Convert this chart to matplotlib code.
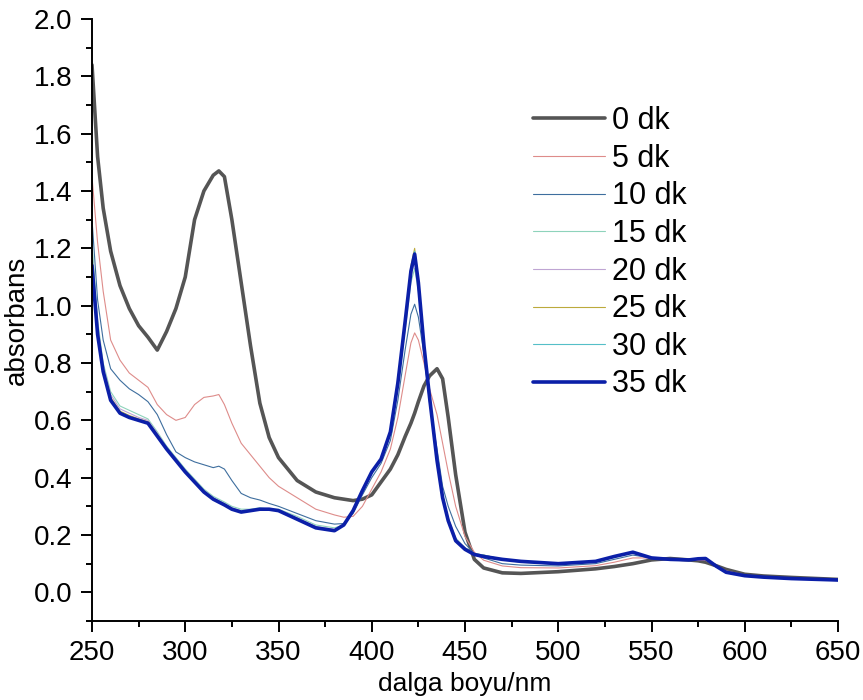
import matplotlib
matplotlib.use("Agg")
import matplotlib.pyplot as plt
from matplotlib.ticker import MultipleLocator, FormatStrFormatter

plt.rcParams['font.family'] = ['Liberation Sans', 'DejaVu Sans']

wavelength = [250, 253, 256, 260, 265, 270, 275, 280, 285, 290,
              295, 300, 305, 310, 315, 318, 321, 325, 330, 335,
              340, 345, 350, 360, 370, 380, 385, 390, 395, 400,
              405, 410, 414, 418, 421, 423, 425, 428, 431, 435,
              438, 441, 445, 450, 455, 460, 470, 480, 500, 520,
              530, 540, 550, 560, 570, 575, 579, 585, 590, 600,
              610, 625, 650]

abs_0 = [1.84, 1.52, 1.34, 1.19, 1.07, 0.99, 0.93, 0.89, 0.845, 0.91,
         0.99, 1.10, 1.30, 1.40, 1.455, 1.47, 1.45, 1.30, 1.08, 0.86,
         0.66, 0.54, 0.47, 0.39, 0.35, 0.33, 0.325, 0.32, 0.325, 0.34,
         0.385, 0.43, 0.48, 0.545, 0.59, 0.625, 0.665, 0.72, 0.755, 0.78,
         0.745, 0.61, 0.41, 0.21, 0.115, 0.085, 0.068, 0.066, 0.072, 0.082,
         0.09, 0.10, 0.113, 0.118, 0.113, 0.11, 0.105, 0.092, 0.08, 0.063,
         0.057, 0.052, 0.045]

abs_5 = [1.45, 1.22, 1.05, 0.88, 0.81, 0.765, 0.74, 0.715, 0.655, 0.62,
         0.60, 0.61, 0.655, 0.68, 0.685, 0.69, 0.655, 0.59, 0.52, 0.48,
         0.44, 0.40, 0.37, 0.33, 0.29, 0.27, 0.262, 0.265, 0.30, 0.36,
         0.42, 0.50, 0.61, 0.76, 0.87, 0.905, 0.88, 0.80, 0.71, 0.62,
         0.52, 0.42, 0.30, 0.195, 0.14, 0.112, 0.092, 0.086, 0.085, 0.093,
         0.105, 0.12, 0.12, 0.115, 0.112, 0.112, 0.112, 0.09, 0.075, 0.06,
         0.055, 0.05, 0.044]

abs_10 = [1.30, 1.02, 0.88, 0.78, 0.74, 0.71, 0.69, 0.665, 0.62, 0.55,
          0.49, 0.47, 0.455, 0.445, 0.435, 0.44, 0.43, 0.39, 0.345, 0.33,
          0.322, 0.31, 0.30, 0.275, 0.25, 0.238, 0.24, 0.275, 0.34, 0.40,
          0.45, 0.53, 0.67, 0.85, 0.97, 1.005, 0.96, 0.83, 0.66, 0.50,
          0.37, 0.30, 0.23, 0.17, 0.135, 0.12, 0.10, 0.095, 0.092, 0.10,
          0.115, 0.13, 0.12, 0.115, 0.113, 0.115, 0.116, 0.09, 0.072, 0.059,
          0.054, 0.049, 0.044]

abs_15 = [1.22, 0.95, 0.80, 0.70, 0.65, 0.635, 0.62, 0.605, 0.56, 0.51,
          0.47, 0.43, 0.395, 0.36, 0.335, 0.325, 0.315, 0.30, 0.29, 0.29,
          0.295, 0.29, 0.29, 0.265, 0.235, 0.225, 0.235, 0.28, 0.35, 0.415,
          0.46, 0.55, 0.72, 0.92, 1.08, 1.13, 1.05, 0.85, 0.67, 0.46,
          0.34, 0.26, 0.19, 0.155, 0.135, 0.128, 0.113, 0.105, 0.098, 0.105,
          0.122, 0.137, 0.12, 0.115, 0.113, 0.117, 0.118, 0.09, 0.07, 0.058,
          0.053, 0.048, 0.043]

abs_20 = [1.18, 0.93, 0.79, 0.69, 0.64, 0.625, 0.61, 0.60, 0.555, 0.505,
          0.465, 0.425, 0.39, 0.355, 0.33, 0.32, 0.31, 0.295, 0.285, 0.288,
          0.292, 0.29, 0.287, 0.26, 0.23, 0.22, 0.235, 0.283, 0.352, 0.418,
          0.462, 0.555, 0.73, 0.94, 1.10, 1.16, 1.07, 0.86, 0.675, 0.46,
          0.335, 0.255, 0.185, 0.155, 0.135, 0.13, 0.115, 0.107, 0.10, 0.107,
          0.124, 0.139, 0.12, 0.115, 0.113, 0.117, 0.118, 0.09, 0.07, 0.058,
          0.053, 0.048, 0.043]

abs_25 = [1.16, 0.91, 0.78, 0.68, 0.632, 0.617, 0.605, 0.595, 0.55, 0.502,
          0.462, 0.422, 0.387, 0.352, 0.327, 0.317, 0.307, 0.292, 0.282, 0.286,
          0.29, 0.29, 0.286, 0.257, 0.227, 0.217, 0.235, 0.285, 0.355, 0.42,
          0.465, 0.56, 0.745, 0.955, 1.14, 1.20, 1.09, 0.86, 0.68, 0.46,
          0.33, 0.25, 0.182, 0.155, 0.135, 0.13, 0.115, 0.108, 0.10, 0.108,
          0.125, 0.14, 0.12, 0.115, 0.113, 0.117, 0.118, 0.09, 0.07, 0.058,
          0.053, 0.048, 0.043]

abs_30 = [1.15, 0.905, 0.775, 0.675, 0.628, 0.613, 0.602, 0.592, 0.547, 0.501,
          0.461, 0.421, 0.386, 0.351, 0.326, 0.316, 0.306, 0.291, 0.281, 0.285,
          0.29, 0.29, 0.285, 0.256, 0.226, 0.216, 0.235, 0.285, 0.355, 0.42,
          0.465, 0.56, 0.742, 0.952, 1.13, 1.19, 1.085, 0.86, 0.68, 0.46,
          0.33, 0.25, 0.18, 0.155, 0.135, 0.13, 0.115, 0.108, 0.10, 0.108,
          0.125, 0.14, 0.12, 0.115, 0.113, 0.117, 0.118, 0.09, 0.07, 0.058,
          0.053, 0.048, 0.043]

abs_35 = [1.14, 0.90, 0.77, 0.67, 0.625, 0.61, 0.60, 0.59, 0.545, 0.50,
          0.46, 0.42, 0.385, 0.35, 0.325, 0.315, 0.305, 0.29, 0.28, 0.285,
          0.29, 0.29, 0.285, 0.255, 0.225, 0.215, 0.235, 0.285, 0.355, 0.42,
          0.465, 0.56, 0.73, 0.95, 1.12, 1.18, 1.08, 0.86, 0.68, 0.46,
          0.33, 0.25, 0.18, 0.15, 0.132, 0.125, 0.115, 0.108, 0.10, 0.108,
          0.125, 0.14, 0.12, 0.115, 0.113, 0.117, 0.118, 0.09, 0.07, 0.058,
          0.053, 0.048, 0.043]

labels = ['0 dk', '5 dk', '10 dk', '15 dk', '20 dk', '25 dk', '30 dk', '35 dk']
series = [abs_0, abs_5, abs_10, abs_15, abs_20, abs_25, abs_30, abs_35]
colors = ['#555555', '#DE8C8A', '#3E6E9E', '#8ED3BB', '#BFA5D3', '#BCAA3C', '#55BFC8', '#0B1FA8']
widths = [2.6, 0.8, 0.8, 0.8, 0.8, 0.8, 0.8, 2.6]

fig = plt.figure(figsize=(8.63, 7.0), dpi=100)
ax = fig.add_axes([92/863, 1 - 621/700, 746/863, (621 - 19)/700])

for y, lab, c, lw in zip(series, labels, colors, widths):
    ax.plot(wavelength, y, color=c, lw=lw, label=lab,
            solid_joinstyle='round', solid_capstyle='round')

ax.set_xlim(250, 650)
ax.set_ylim(-0.1, 2.0)
ax.xaxis.set_major_locator(MultipleLocator(50))
ax.xaxis.set_minor_locator(MultipleLocator(25))
ax.yaxis.set_major_locator(MultipleLocator(0.2))
ax.yaxis.set_minor_locator(MultipleLocator(0.1))
ax.yaxis.set_major_formatter(FormatStrFormatter('%.1f'))

for s in ['top', 'right']:
    ax.spines[s].set_visible(False)
for s in ['left', 'bottom']:
    ax.spines[s].set_linewidth(1.4)

ax.tick_params(which='major', direction='out', length=8, width=1.4, labelsize=20)
ax.tick_params(axis='x', which='major', pad=6)
ax.tick_params(axis='y', which='major', pad=6)
ax.tick_params(which='minor', direction='out', length=4, width=1.4)

ax.set_xlabel('dalga boyu/nm', fontsize=19, labelpad=4)
ax.set_ylabel('absorbans', fontsize=20, labelpad=3)

leg = ax.legend(loc='upper left', bbox_to_anchor=((533 - 92)/746, 1 - (106 - 19)/602),
                frameon=False, fontsize=22, handlelength=2.35, handletextpad=0.23,
                labelspacing=0.25, borderpad=0, borderaxespad=0)

fig.savefig('out.png', dpi=100)
